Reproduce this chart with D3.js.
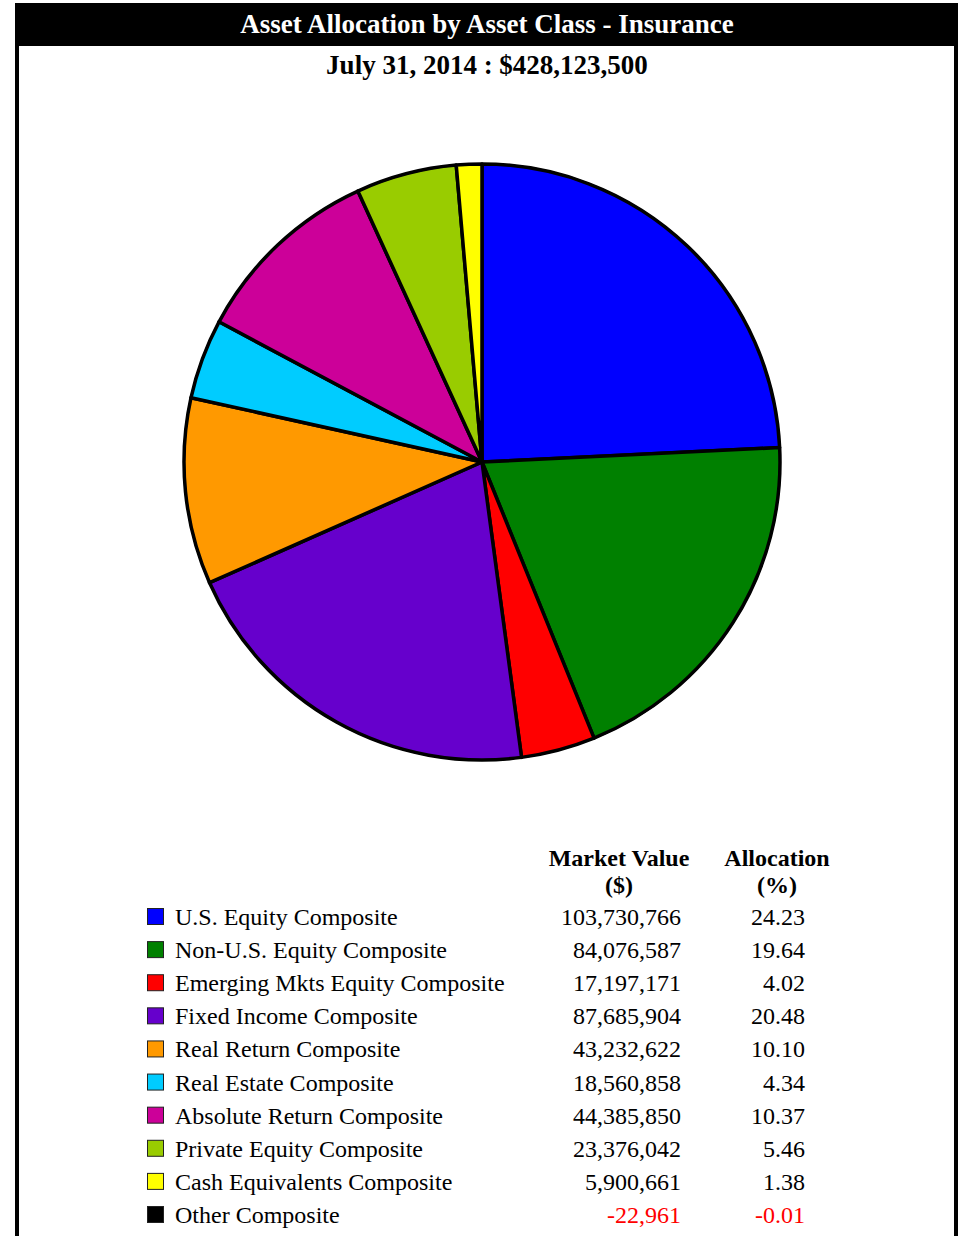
<!DOCTYPE html>
<html>
<head>
<meta charset="utf-8" />
<title>Asset Allocation by Asset Class - Insurance</title>
<style>
  body { margin: 0; background: #fff; }
  text { font-family: "Liberation Serif", "Times New Roman", serif; }
</style>
</head>
<body>
<div id="chart"></div>
<script src="https://d3js.org/d3.v7.min.js"></script>
<script>
// data
const categories = [
  "U.S. Equity Composite",
  "Non-U.S. Equity Composite",
  "Emerging Mkts Equity Composite",
  "Fixed Income Composite",
  "Real Return Composite",
  "Real Estate Composite",
  "Absolute Return Composite",
  "Private Equity Composite",
  "Cash Equivalents Composite",
  "Other Composite"
];
const marketValues = [103730766, 84076587, 17197171, 87685904, 43232622,
  18560858, 44385850, 23376042, 5900661, -22961];
const allocations = [24.23, 19.64, 4.02, 20.48, 10.10, 4.34, 10.37, 5.46, 1.38, -0.01];
const colors = ["#0000ff", "#008000", "#ff0000", "#6600cc", "#ff9900",
  "#00ccff", "#cc0099", "#99cc00", "#ffff00", "#000000"];

const title = "Asset Allocation by Asset Class - Insurance";
const subtitle = "July 31, 2014 : $428,123,500";

const width = 965, height = 1236;
const cx = 482, cy = 462, radius = 298;

const svg = d3.select("#chart").append("svg")
  .attr("width", width)
  .attr("height", height);

// frame: black title bar and side rules
svg.append("rect").attr("x", 15).attr("y", 3).attr("width", 943).attr("height", 43).attr("fill", "#000");
svg.append("rect").attr("x", 15).attr("y", 3).attr("width", 4).attr("height", height).attr("fill", "#000");
svg.append("rect").attr("x", 954).attr("y", 3).attr("width", 4).attr("height", height).attr("fill", "#000");

svg.append("text")
  .attr("x", 487).attr("y", 33)
  .attr("text-anchor", "middle")
  .attr("fill", "#fff")
  .attr("font-weight", "bold")
  .attr("font-size", 27)
  .text(title);

svg.append("text")
  .attr("x", 487).attr("y", 74)
  .attr("text-anchor", "middle")
  .attr("fill", "#000")
  .attr("font-weight", "bold")
  .attr("font-size", 27)
  .text(subtitle);

// pie, negative values are left out
const slices = categories.map((c, i) => ({ name: c, value: marketValues[i], color: colors[i] }))
  .filter(d => d.value > 0);

const pie = d3.pie().sort(null).value(d => d.value);
const arc = d3.arc().innerRadius(0).outerRadius(radius);

const chart = svg.append("g").attr("transform", `translate(${cx}, ${cy})`);

chart.selectAll("path.slice")
  .data(pie(slices))
  .enter()
  .append("path")
  .attr("class", "slice")
  .attr("d", arc)
  .attr("fill", d => d.data.color)
  .attr("stroke", "#000")
  .attr("stroke-width", 3.5)
  .attr("stroke-linejoin", "round");

chart.append("circle")
  .attr("r", radius)
  .attr("fill", "none")
  .attr("stroke", "#000")
  .attr("stroke-width", 2);

// table legend
const legend = svg.append("g");
const rowY = d3.scalePoint().domain(categories).range([925, 1223]);
const valX = 681, pctX = 805;

[["Market Value", "($)", 619], ["Allocation", "(%)", 777]].forEach(h => {
  const t = legend.append("text")
    .attr("x", h[2]).attr("y", 866)
    .attr("text-anchor", "middle")
    .attr("font-weight", "bold")
    .attr("font-size", 24);
  t.append("tspan").attr("x", h[2]).attr("dy", 0).text(h[0]);
  t.append("tspan").attr("x", h[2]).attr("dy", 27).text(h[1]);
});

const fmt = d3.formatLocale({ decimal: ".", thousands: ",", grouping: [3], currency: ["$", ""], minus: "-" }).format(",");
const rows = legend.selectAll("g.row")
  .data(categories)
  .enter()
  .append("g")
  .attr("class", "row")
  .attr("transform", d => `translate(0, ${rowY(d)})`);

rows.append("rect")
  .attr("x", 147.5).attr("y", -16.5)
  .attr("width", 16).attr("height", 16)
  .attr("fill", (d, i) => colors[i])
  .attr("stroke", "#222")
  .attr("stroke-width", 1);

rows.append("text")
  .attr("x", 175).attr("y", 0)
  .attr("font-size", 24)
  .text(d => d);

rows.append("text")
  .attr("x", valX).attr("y", 0)
  .attr("text-anchor", "end")
  .attr("font-size", 24)
  .attr("fill", (d, i) => marketValues[i] < 0 ? "#ff0000" : "#000")
  .text((d, i) => fmt(marketValues[i]));

rows.append("text")
  .attr("x", pctX).attr("y", 0)
  .attr("text-anchor", "end")
  .attr("font-size", 24)
  .attr("fill", (d, i) => allocations[i] < 0 ? "#ff0000" : "#000")
  .text((d, i) => allocations[i].toFixed(2));
</script>
</body>
</html>
